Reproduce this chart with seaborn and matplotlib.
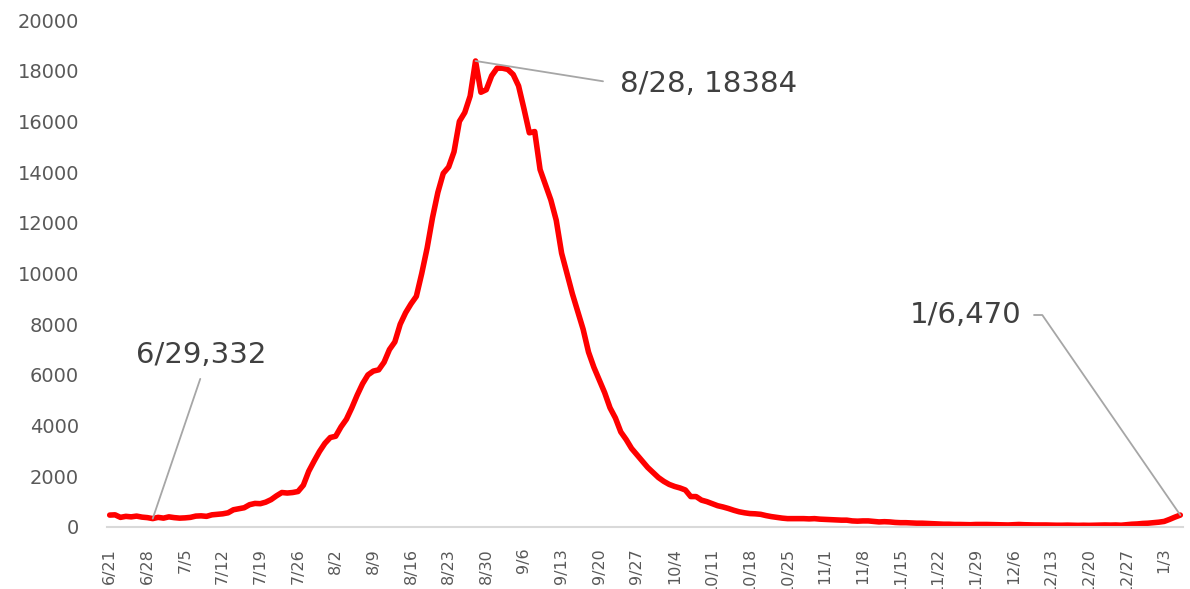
import pandas as pd
import matplotlib.pyplot as plt
import seaborn as sns

# daily values, 6/21 -> 1/6
start_date = "2021-06-21"
end_date = "2022-01-06"
cases = [
    470, 480, 380, 420, 400, 430, 390, 370, 332, 380,          # 6/21 - 6/30
    350, 400, 370, 350, 360, 380, 430, 440, 420, 480,          # 7/1 - 7/10
    500, 520, 560, 680, 720, 760, 880, 930, 920, 980,          # 7/11 - 7/20
    1080, 1230, 1360, 1340, 1360, 1400, 1650, 2200, 2600, 2980,  # 7/21 - 7/30
    3300, 3530, 3580, 3950, 4250, 4700, 5200, 5650, 6000, 6150,  # 7/31 - 8/9
    6200, 6500, 7000, 7300, 8000, 8450, 8800, 9100, 10000, 11000,  # 8/10 - 8/19
    12200, 13200, 13950, 14200, 14800, 16000, 16350, 17000, 18384, 17150,  # 8/20 - 8/29
    17250, 17800, 18100, 18100, 18050, 17850, 17400, 16500, 15550, 15600,  # 8/30 - 9/8
    14100, 13500, 12900, 12100, 10800, 10000, 9200, 8500, 7800, 6900,  # 9/9 - 9/18
    6300, 5800, 5300, 4700, 4300, 3750, 3450, 3100, 2850, 2600,  # 9/19 - 9/28
    2350, 2150, 1950, 1800, 1680, 1600, 1540, 1460, 1200, 1200,  # 9/29 - 10/8
    1060, 1000, 920, 840, 790, 730, 660, 600, 560, 530,        # 10/9 - 10/18
    520, 500, 450, 410, 380, 350, 330, 330, 330, 330,          # 10/19 - 10/28
    320, 330, 310, 300, 290, 280, 270, 270, 240, 230,          # 10/29 - 11/7
    240, 240, 220, 200, 210, 200, 180, 170, 170, 160,          # 11/8 - 11/17
    150, 150, 140, 130, 120, 110, 110, 100, 100, 95,           # 11/18 - 11/27
    90, 100, 100, 100, 95, 90, 85, 80, 90, 100,                # 11/28 - 12/7
    90, 85, 80, 80, 80, 75, 70, 70, 75, 70,                    # 12/8 - 12/17
    65, 70, 65, 70, 75, 80, 75, 80, 70, 90,                    # 12/18 - 12/27
    110, 120, 140, 150, 170, 190, 220, 300, 390, 470,          # 12/28 - 1/6
]
tick_labels = ["6/21", "6/28", "7/5", "7/12", "7/19", "7/26", "8/2", "8/9",
               "8/16", "8/23", "8/30", "9/6", "9/13", "9/20", "9/27", "10/4",
               "10/11", "10/18", "10/25", "11/1", "11/8", "11/15", "11/22",
               "11/29", "12/6", "12/13", "12/20", "12/27", "1/3"]

df = pd.DataFrame({"date": pd.date_range(start_date, end_date), "cases": cases})

sns.set_style("white")
plt.rcParams["font.family"] = ["DejaVu Sans"]

fig = plt.figure(figsize=(11.9, 5.89), dpi=100)
ax = fig.add_axes([107 / 1190, 62 / 589, 1076 / 1190, 507 / 589])

sns.lineplot(data=df, x="date", y="cases", ax=ax, color="#ff0000",
             linewidth=4.0, solid_joinstyle="round", solid_capstyle="round")

# axes look (Excel style)
day = pd.Timedelta(days=1)
ax.set_xlim(df["date"].iloc[0] - day * 0.5, df["date"].iloc[-1] + day * 0.5)
ax.set_ylim(0, 20000)
ax.set_yticks(range(0, 20001, 2000))
ax.set_xticks(df["date"].iloc[::7])
ax.set_xticklabels(tick_labels, rotation=90, va="top", ha="center")
ax.tick_params(axis="y", length=0, pad=20, labelsize=14, labelcolor="#595959")
ax.tick_params(axis="x", length=0, pad=15, labelsize=11.5, labelcolor="#595959")
ax.set_xlabel("")
ax.set_ylabel("")
for side in ["top", "right", "left"]:
    ax.spines[side].set_visible(False)
ax.spines["bottom"].set_color("#d9d9d9")
ax.spines["bottom"].set_linewidth(1.5)

# data labels with leader lines
lead = dict(arrowstyle="-", color="#a6a6a6", lw=1.3, shrinkB=0)
peak = df["cases"].idxmax()
ax.annotate(f"{df['date'][peak].month}/{df['date'][peak].day}, {cases[peak]}",
            xy=(df["date"][peak], cases[peak]), xytext=(620, 505),
            textcoords="figure pixels", ha="left", va="center",
            fontsize=21, color="#404040",
            arrowprops=dict(lead, relpos=(0, 0.5), shrinkA=10))

low = 8
ax.annotate(f"{df['date'][low].month}/{df['date'][low].day},{cases[low]}",
            xy=(df["date"][low], cases[low]), xytext=(201, 234),
            textcoords="figure pixels", ha="center", va="center",
            fontsize=21, color="#404040",
            arrowprops=dict(lead, relpos=(0.52, 0), shrinkA=5))

last = len(cases) - 1
ax.annotate(f"{df['date'][last].month}/{df['date'][last].day},{cases[last]}",
            xy=(df["date"][last], cases[last]), xytext=(1021, 274),
            textcoords="figure pixels", ha="right", va="center",
            fontsize=21, color="#404040",
            arrowprops=dict(lead, relpos=(1, 0.5), shrinkA=7,
                            connectionstyle="angle,angleA=0,angleB=124.6,rad=0"))

plt.savefig("out.png", dpi=100)
